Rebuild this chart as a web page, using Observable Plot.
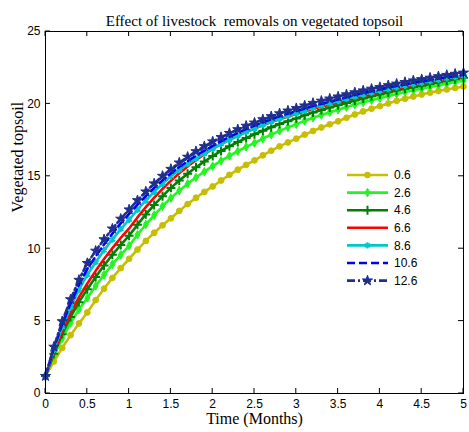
<!DOCTYPE html>
<html><head><meta charset="utf-8">
<script src="https://cdn.jsdelivr.net/npm/d3@7"></script>
<script src="https://cdn.jsdelivr.net/npm/@observablehq/plot@0.6"></script>
<style>body{margin:0;background:#fff} svg{display:block}</style>
</head><body><div id="chart"></div>
<script>
const times = [0,0.1,0.2,0.3,0.4,0.5,0.6,0.7,0.8,0.9,1,1.1,1.2,1.3,1.4,1.5,1.6,1.7,1.8,1.9,2,2.1,2.2,2.3,2.4,2.5,2.6,2.7,2.8,2.9,3,3.1,3.2,3.3,3.4,3.5,3.6,3.7,3.8,3.9,4,4.1,4.2,4.3,4.4,4.5,4.6,4.7,4.8,4.9,5];
const labels = ["0.6","2.6","4.6","6.6","8.6","10.6","12.6"];
const s06 = [1.2,2.21,3.15,4.03,4.84,5.6,6.45,7.24,7.98,8.66,9.3,9.94,10.54,11.1,11.62,12.1,12.61,13.08,13.52,13.92,14.3,14.71,15.1,15.46,15.79,16.1,16.45,16.77,17.07,17.34,17.6,17.88,18.13,18.37,18.59,18.8,19.04,19.27,19.48,19.67,19.85,20.03,20.21,20.36,20.51,20.65,20.78,20.89,21.0,21.1,21.2];
const s26 = [1.2,2.6,3.81,4.87,5.8,6.6,7.43,8.2,8.92,9.58,10.2,10.96,11.67,12.32,12.93,13.5,14.01,14.48,14.92,15.32,15.7,16.07,16.41,16.73,17.03,17.3,17.6,17.88,18.14,18.38,18.6,18.83,19.04,19.24,19.43,19.6,19.78,19.96,20.11,20.26,20.4,20.55,20.69,20.82,20.94,21.05,21.18,21.29,21.4,21.51,21.6];
const s46 = [1.2,2.75,4.1,5.28,6.31,7.2,8.05,8.84,9.58,10.26,10.9,11.66,12.37,13.02,13.63,14.2,14.71,15.18,15.62,16.02,16.4,16.75,17.07,17.37,17.64,17.9,18.15,18.39,18.61,18.81,19.0,19.21,19.4,19.58,19.75,19.9,20.07,20.23,20.38,20.52,20.65,20.79,20.92,21.04,21.15,21.25,21.38,21.49,21.6,21.71,21.8];
const s66 = [1.2,2.86,4.3,5.55,6.65,7.6,8.47,9.29,10.04,10.75,11.4,12.16,12.87,13.52,14.13,14.7,15.21,15.68,16.12,16.52,16.9,17.22,17.52,17.8,18.06,18.3,18.53,18.74,18.94,19.13,19.3,19.48,19.66,19.81,19.96,20.1,20.26,20.41,20.55,20.68,20.8,20.94,21.07,21.19,21.3,21.4,21.52,21.62,21.72,21.81,21.9];
const s86 = [1.2,3.01,4.59,5.96,7.16,8.2,9.07,9.89,10.64,11.35,12.0,12.69,13.33,13.93,14.48,15.0,15.44,15.84,16.22,16.57,16.9,17.22,17.52,17.8,18.06,18.3,18.54,18.77,18.98,19.17,19.35,19.55,19.73,19.9,20.05,20.2,20.36,20.51,20.65,20.78,20.9,21.03,21.14,21.25,21.36,21.45,21.57,21.67,21.77,21.86,21.95];
const s106 = [1.2,3.12,4.78,6.23,7.5,8.6,9.47,10.29,11.04,11.75,12.4,13.04,13.64,14.2,14.72,15.2,15.64,16.04,16.42,16.77,17.1,17.42,17.72,18.0,18.26,18.5,18.73,18.94,19.14,19.33,19.5,19.68,19.86,20.01,20.16,20.3,20.46,20.61,20.75,20.88,21.0,21.13,21.24,21.35,21.46,21.55,21.65,21.75,21.84,21.92,22.0];
const s126 = [1.2,3.22,4.98,6.5,7.84,9.0,9.85,10.64,11.38,12.06,12.7,13.34,13.94,14.5,15.02,15.5,15.94,16.34,16.72,17.07,17.4,17.7,17.98,18.24,18.48,18.7,18.93,19.14,19.34,19.53,19.7,19.88,20.06,20.21,20.36,20.5,20.65,20.79,20.92,21.04,21.15,21.28,21.39,21.5,21.61,21.7,21.8,21.9,21.99,22.07,22.15];
const xTicks = [0,0.5,1,1.5,2,2.5,3,3.5,4,4.5,5];
const yTicks = [0,5,10,15,20,25];
const title = "Effect of livestock  removals on vegetated topsoil";
const xLabel = "Time (Months)";
const yLabel = "Vegetated topsoil";

const seriesValues = [s06,s26,s46,s66,s86,s106,s126];
const styles = [
  {color:"#c8be00", dash:null, symbol:"circle", r:2.9, fill:true},
  {color:"#22f522", dash:null, symbol:"diamond", r:2.6, fill:true},
  {color:"#008000", dash:null, symbol:"plus", r:3.0, fill:false},
  {color:"#ff0000", dash:null, symbol:null},
  {color:"#00c8c8", dash:null, symbol:"asterisk", r:3.0, fill:false},
  {color:"#0000ff", dash:"8,4", symbol:null},
  {color:"#1f2f8f", dash:"8,3,2,3", symbol:"star", r:3.2, fill:true}
];
const rows = [];
seriesValues.forEach((vals, i) => vals.forEach((v, j) => rows.push({series: labels[i], t: times[j], y: v})));

const marks = [];
labels.forEach((lab, i) => {
  const st = styles[i];
  const data = rows.filter(d => d.series === lab);
  marks.push(Plot.line(data, {x: "t", y: "y", stroke: st.color, strokeWidth: 2.6, strokeDasharray: st.dash || undefined}));
  if (st.symbol) {
    marks.push(Plot.dot(data, st.fill
      ? {x: "t", y: "y", symbol: () => st.symbol, r: st.r, fill: st.color, stroke: st.color, strokeWidth: 1}
      : {x: "t", y: "y", symbol: () => st.symbol, r: st.r, stroke: st.color, strokeWidth: 2, fill: "none"}));
  }
});

const serif = "Liberation Serif, Times New Roman, serif";
const chart = Plot.plot({
  width: 469, height: 432,
  marginLeft: 45, marginRight: 6, marginTop: 31, marginBottom: 39,
  style: {background: "#fff", fontFamily: "Liberation Sans, Arial, sans-serif", fontSize: "12px", color: "#000"},
  x: {domain: [0, 5], ticks: xTicks},
  y: {domain: [0, 25], ticks: yTicks},
  symbol: {type: "identity"},
  marks: [
    ...marks,
    Plot.frame({stroke: "#000", strokeWidth: 1}),
    Plot.axisX(xTicks, {tickSize: 0, tickPadding: 6, label: null, tickFormat: d => String(d), fontSize: 12}),
    Plot.axisY(yTicks, {tickSize: 0, tickPadding: 5, label: null, tickFormat: d => String(d), fontSize: 12}),
    Plot.text([title], {frameAnchor: "top", dy: -16, fontFamily: serif, fontSize: 15}),
    Plot.text([xLabel], {frameAnchor: "bottom", dy: 30, fontFamily: serif, fontSize: 16}),
    Plot.text([yLabel], {frameAnchor: "left", dx: -28, rotate: -90, fontFamily: serif, fontSize: 16})
  ]
});

// inward ticks on all four sides
const sx = chart.scale("x"), sy = chart.scale("y");
const svg = d3.select(chart);
const g = svg.append("g").attr("stroke", "#000").attr("stroke-width", 1);
const x0 = sx.apply(0), x1 = sx.apply(5), y0 = sy.apply(0), y1 = sy.apply(25);
const tl = 5;
xTicks.forEach(t => {
  const px = sx.apply(t);
  g.append("line").attr("x1", px).attr("x2", px).attr("y1", y0).attr("y2", y0 - tl);
  g.append("line").attr("x1", px).attr("x2", px).attr("y1", y1).attr("y2", y1 + tl);
});
yTicks.forEach(v => {
  const py = sy.apply(v);
  g.append("line").attr("x1", x0).attr("x2", x0 + tl).attr("y1", py).attr("y2", py);
  g.append("line").attr("x1", x1).attr("x2", x1 - tl).attr("y1", py).attr("y2", py);
});

// legend
const symMap = {circle: d3.symbolCircle, diamond: d3.symbolDiamond, plus: d3.symbolPlus, asterisk: d3.symbolAsterisk, star: d3.symbolStar};
const lg = svg.append("g").attr("font-family", "Liberation Sans, Arial, sans-serif").attr("font-size", 12).attr("text-anchor", "start");
const lx = 347, lw = 41, ly = 175, lstep = 17.6;
labels.forEach((lab, i) => {
  const st = styles[i];
  const yy = ly + i * lstep;
  lg.append("line").attr("x1", lx).attr("x2", lx + lw).attr("y1", yy).attr("y2", yy)
    .attr("stroke", st.color).attr("stroke-width", 2.6).attr("stroke-dasharray", st.dash);
  if (st.symbol) {
    lg.append("path").attr("d", d3.symbol(symMap[st.symbol], Math.PI * st.r * st.r)())
      .attr("transform", `translate(${lx + lw / 2},${yy})`)
      .attr("fill", st.fill ? st.color : "none").attr("stroke", st.color).attr("stroke-width", st.fill ? 1 : 2);
  }
  lg.append("text").attr("x", lx + lw + 6).attr("y", yy).attr("dy", "0.35em").attr("fill", "#000").attr("text-anchor", "start").text(lab);
});

document.getElementById("chart").appendChild(chart);
</script>
</body></html>
